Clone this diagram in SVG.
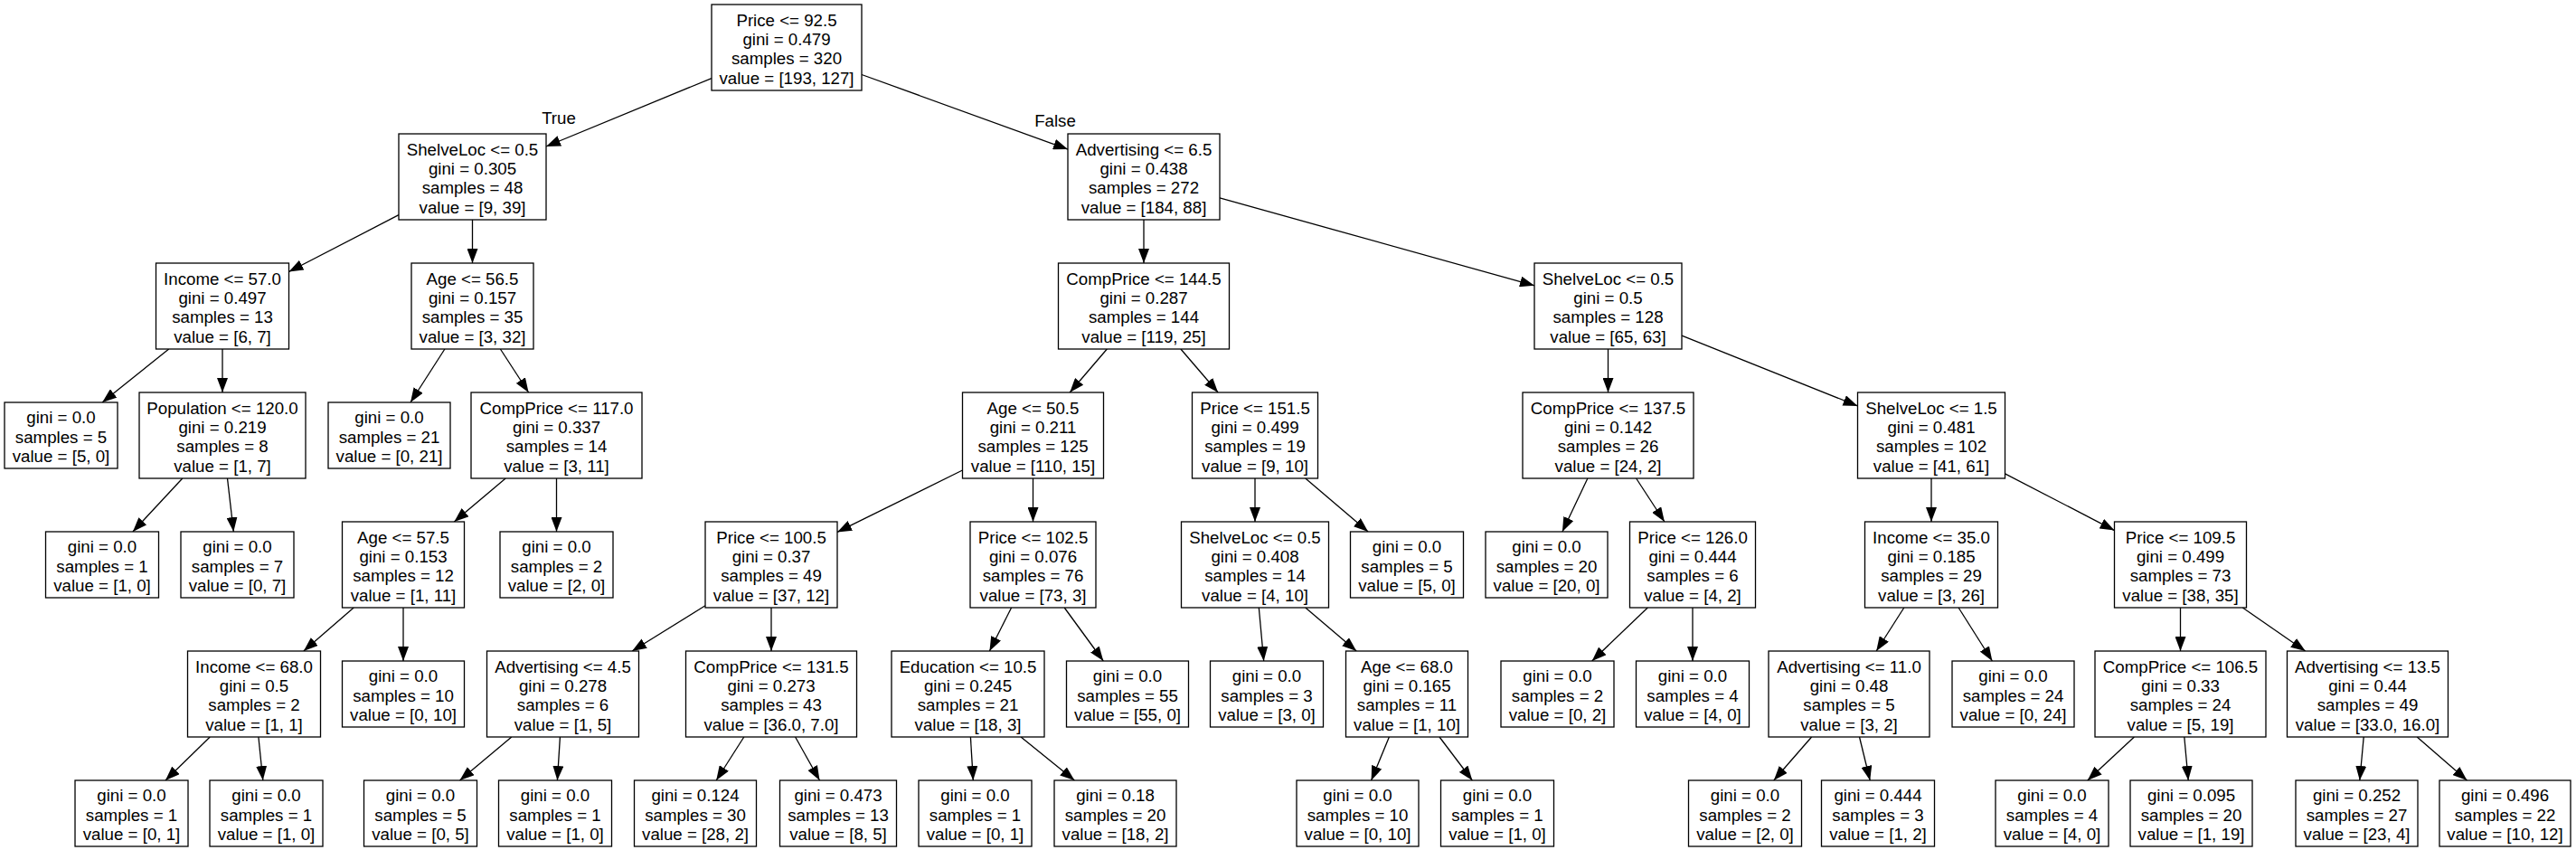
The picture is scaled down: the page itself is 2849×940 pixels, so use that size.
<svg xmlns="http://www.w3.org/2000/svg" width="2849" height="940" viewBox="0 0 2849 940">
<defs>
<style>
.b{fill:#fff;stroke:#000;stroke-width:1.3}
text{font-family:"Liberation Sans",Arial,Helvetica,sans-serif;font-size:18.7px;text-anchor:middle;fill:#000}
.e line{stroke:#000;stroke-width:1.3;marker-end:url(#ah)}
</style>
<marker id="ah" markerUnits="userSpaceOnUse" markerWidth="16" markerHeight="12" viewBox="0 0 16 12" refX="16" refY="6" orient="auto"><path d="M0,0L16,6L0,12z" fill="#000"/></marker>
</defs>
<rect width="2849" height="940" fill="#fff"/>
<g class="e" id="edges">
<line x1="787" y1="86.6" x2="604" y2="162"/>
<line x1="953" y1="82.5" x2="1181" y2="165.1"/>
<line x1="441" y1="237.7" x2="319.5" y2="300.5"/>
<line x1="522.5" y1="243" x2="522.5" y2="291"/>
<line x1="1265" y1="243" x2="1265" y2="291"/>
<line x1="1349" y1="218.9" x2="1697" y2="315.8"/>
<line x1="186.7" y1="386" x2="113.1" y2="445"/>
<line x1="246" y1="386" x2="246" y2="434"/>
<line x1="491.9" y1="386" x2="454" y2="445"/>
<line x1="553.4" y1="386" x2="584.6" y2="434"/>
<line x1="1224.3" y1="386" x2="1183.2" y2="434"/>
<line x1="1305.9" y1="386" x2="1347.1" y2="434"/>
<line x1="1778.5" y1="386" x2="1778.5" y2="434"/>
<line x1="1860" y1="371.1" x2="2054.5" y2="448.9"/>
<line x1="201.8" y1="529" x2="146.9" y2="588"/>
<line x1="251.5" y1="529" x2="258.3" y2="588"/>
<line x1="559.2" y1="529" x2="502.3" y2="577"/>
<line x1="615.5" y1="529" x2="615.5" y2="588"/>
<line x1="1064.5" y1="520" x2="926" y2="588.4"/>
<line x1="1142.5" y1="529" x2="1142.5" y2="577"/>
<line x1="1388" y1="529" x2="1388" y2="577"/>
<line x1="1443.8" y1="529" x2="1513.1" y2="588"/>
<line x1="1755.9" y1="529" x2="1727.9" y2="588"/>
<line x1="1809.6" y1="529" x2="1840.9" y2="577"/>
<line x1="2136" y1="529" x2="2136" y2="577"/>
<line x1="2217.5" y1="523.8" x2="2338.5" y2="586.6"/>
<line x1="391.2" y1="672" x2="335.8" y2="720"/>
<line x1="446" y1="672" x2="446" y2="731"/>
<line x1="780" y1="669.8" x2="699.1" y2="720"/>
<line x1="853" y1="672" x2="853" y2="720"/>
<line x1="1118.6" y1="672" x2="1094.4" y2="720"/>
<line x1="1177.2" y1="672" x2="1220.3" y2="731"/>
<line x1="1392.3" y1="672" x2="1397.7" y2="731"/>
<line x1="1443.8" y1="672" x2="1500.2" y2="720"/>
<line x1="1822.3" y1="672" x2="1760.7" y2="731"/>
<line x1="1872" y1="672" x2="1872" y2="731"/>
<line x1="2105.8" y1="672" x2="2075.2" y2="720"/>
<line x1="2166.1" y1="672" x2="2203.4" y2="731"/>
<line x1="2411.5" y1="672" x2="2411.5" y2="720"/>
<line x1="2480.3" y1="672" x2="2549.7" y2="720"/>
<line x1="232.2" y1="815" x2="183" y2="863"/>
<line x1="285.9" y1="815" x2="290.8" y2="863"/>
<line x1="565.8" y1="815" x2="508.5" y2="863"/>
<line x1="619.4" y1="815" x2="616.4" y2="863"/>
<line x1="822.8" y1="815" x2="792.2" y2="863"/>
<line x1="879.6" y1="815" x2="906.5" y2="863"/>
<line x1="1073.4" y1="815" x2="1076.3" y2="863"/>
<line x1="1129.1" y1="815" x2="1188.4" y2="863"/>
<line x1="1536.4" y1="815" x2="1516.6" y2="863"/>
<line x1="1592" y1="815" x2="1628.3" y2="863"/>
<line x1="2003.6" y1="815" x2="1961.8" y2="863"/>
<line x1="2056.5" y1="815" x2="2068.2" y2="863"/>
<line x1="2360.4" y1="815" x2="2308.8" y2="863"/>
<line x1="2415.8" y1="815" x2="2420.2" y2="863"/>
<line x1="2614.2" y1="815" x2="2609.8" y2="863"/>
<line x1="2673.2" y1="815" x2="2728.5" y2="863"/>
<text x="618" y="137">True</text>
<text x="1167" y="140">False</text>
</g>
<g id="nodes">
<g id="n0" transform="translate(870,52.5)"><rect class="b" x="-83" y="-47.5" width="166" height="95"/><text y="-24">Price &lt;= 92.5</text><text y="-2.6">gini = 0.479</text><text y="18.8">samples = 320</text><text y="40.2">value = [193, 127]</text></g>
<g id="n1" transform="translate(522.5,195.5)"><rect class="b" x="-81.5" y="-47.5" width="163" height="95"/><text y="-24">ShelveLoc &lt;= 0.5</text><text y="-2.6">gini = 0.305</text><text y="18.8">samples = 48</text><text y="40.2">value = [9, 39]</text></g>
<g id="n2" transform="translate(1265,195.5)"><rect class="b" x="-84" y="-47.5" width="168" height="95"/><text y="-24">Advertising &lt;= 6.5</text><text y="-2.6">gini = 0.438</text><text y="18.8">samples = 272</text><text y="40.2">value = [184, 88]</text></g>
<g id="n3" transform="translate(246,338.5)"><rect class="b" x="-73.5" y="-47.5" width="147" height="95"/><text y="-24">Income &lt;= 57.0</text><text y="-2.6">gini = 0.497</text><text y="18.8">samples = 13</text><text y="40.2">value = [6, 7]</text></g>
<g id="n4" transform="translate(522.5,338.5)"><rect class="b" x="-67.5" y="-47.5" width="135" height="95"/><text y="-24">Age &lt;= 56.5</text><text y="-2.6">gini = 0.157</text><text y="18.8">samples = 35</text><text y="40.2">value = [3, 32]</text></g>
<g id="n5" transform="translate(1265,338.5)"><rect class="b" x="-94.5" y="-47.5" width="189" height="95"/><text y="-24">CompPrice &lt;= 144.5</text><text y="-2.6">gini = 0.287</text><text y="18.8">samples = 144</text><text y="40.2">value = [119, 25]</text></g>
<g id="n6" transform="translate(1778.5,338.5)"><rect class="b" x="-81.5" y="-47.5" width="163" height="95"/><text y="-24">ShelveLoc &lt;= 0.5</text><text y="-2.6">gini = 0.5</text><text y="18.8">samples = 128</text><text y="40.2">value = [65, 63]</text></g>
<g id="n7" transform="translate(67.5,481.5)"><rect class="b" x="-62.5" y="-36.5" width="125" height="73"/><text y="-13.3">gini = 0.0</text><text y="8.1">samples = 5</text><text y="29.5">value = [5, 0]</text></g>
<g id="n8" transform="translate(246,481.5)"><rect class="b" x="-92" y="-47.5" width="184" height="95"/><text y="-24">Population &lt;= 120.0</text><text y="-2.6">gini = 0.219</text><text y="18.8">samples = 8</text><text y="40.2">value = [1, 7]</text></g>
<g id="n9" transform="translate(430.5,481.5)"><rect class="b" x="-67.5" y="-36.5" width="135" height="73"/><text y="-13.3">gini = 0.0</text><text y="8.1">samples = 21</text><text y="29.5">value = [0, 21]</text></g>
<g id="n10" transform="translate(615.5,481.5)"><rect class="b" x="-94.5" y="-47.5" width="189" height="95"/><text y="-24">CompPrice &lt;= 117.0</text><text y="-2.6">gini = 0.337</text><text y="18.8">samples = 14</text><text y="40.2">value = [3, 11]</text></g>
<g id="n11" transform="translate(1142.5,481.5)"><rect class="b" x="-78" y="-47.5" width="156" height="95"/><text y="-24">Age &lt;= 50.5</text><text y="-2.6">gini = 0.211</text><text y="18.8">samples = 125</text><text y="40.2">value = [110, 15]</text></g>
<g id="n12" transform="translate(1388,481.5)"><rect class="b" x="-69.5" y="-47.5" width="139" height="95"/><text y="-24">Price &lt;= 151.5</text><text y="-2.6">gini = 0.499</text><text y="18.8">samples = 19</text><text y="40.2">value = [9, 10]</text></g>
<g id="n13" transform="translate(1778.5,481.5)"><rect class="b" x="-94.5" y="-47.5" width="189" height="95"/><text y="-24">CompPrice &lt;= 137.5</text><text y="-2.6">gini = 0.142</text><text y="18.8">samples = 26</text><text y="40.2">value = [24, 2]</text></g>
<g id="n14" transform="translate(2136,481.5)"><rect class="b" x="-81.5" y="-47.5" width="163" height="95"/><text y="-24">ShelveLoc &lt;= 1.5</text><text y="-2.6">gini = 0.481</text><text y="18.8">samples = 102</text><text y="40.2">value = [41, 61]</text></g>
<g id="n15" transform="translate(113,624.5)"><rect class="b" x="-62.5" y="-36.5" width="125" height="73"/><text y="-13.3">gini = 0.0</text><text y="8.1">samples = 1</text><text y="29.5">value = [1, 0]</text></g>
<g id="n16" transform="translate(262.5,624.5)"><rect class="b" x="-62.5" y="-36.5" width="125" height="73"/><text y="-13.3">gini = 0.0</text><text y="8.1">samples = 7</text><text y="29.5">value = [0, 7]</text></g>
<g id="n17" transform="translate(446,624.5)"><rect class="b" x="-67.5" y="-47.5" width="135" height="95"/><text y="-24">Age &lt;= 57.5</text><text y="-2.6">gini = 0.153</text><text y="18.8">samples = 12</text><text y="40.2">value = [1, 11]</text></g>
<g id="n18" transform="translate(615.5,624.5)"><rect class="b" x="-62.5" y="-36.5" width="125" height="73"/><text y="-13.3">gini = 0.0</text><text y="8.1">samples = 2</text><text y="29.5">value = [2, 0]</text></g>
<g id="n19" transform="translate(853,624.5)"><rect class="b" x="-73" y="-47.5" width="146" height="95"/><text y="-24">Price &lt;= 100.5</text><text y="-2.6">gini = 0.37</text><text y="18.8">samples = 49</text><text y="40.2">value = [37, 12]</text></g>
<g id="n20" transform="translate(1142.5,624.5)"><rect class="b" x="-69.5" y="-47.5" width="139" height="95"/><text y="-24">Price &lt;= 102.5</text><text y="-2.6">gini = 0.076</text><text y="18.8">samples = 76</text><text y="40.2">value = [73, 3]</text></g>
<g id="n21" transform="translate(1388,624.5)"><rect class="b" x="-81.5" y="-47.5" width="163" height="95"/><text y="-24">ShelveLoc &lt;= 0.5</text><text y="-2.6">gini = 0.408</text><text y="18.8">samples = 14</text><text y="40.2">value = [4, 10]</text></g>
<g id="n22" transform="translate(1556,624.5)"><rect class="b" x="-62.5" y="-36.5" width="125" height="73"/><text y="-13.3">gini = 0.0</text><text y="8.1">samples = 5</text><text y="29.5">value = [5, 0]</text></g>
<g id="n23" transform="translate(1710.5,624.5)"><rect class="b" x="-67.5" y="-36.5" width="135" height="73"/><text y="-13.3">gini = 0.0</text><text y="8.1">samples = 20</text><text y="29.5">value = [20, 0]</text></g>
<g id="n24" transform="translate(1872,624.5)"><rect class="b" x="-69.5" y="-47.5" width="139" height="95"/><text y="-24">Price &lt;= 126.0</text><text y="-2.6">gini = 0.444</text><text y="18.8">samples = 6</text><text y="40.2">value = [4, 2]</text></g>
<g id="n25" transform="translate(2136,624.5)"><rect class="b" x="-73.5" y="-47.5" width="147" height="95"/><text y="-24">Income &lt;= 35.0</text><text y="-2.6">gini = 0.185</text><text y="18.8">samples = 29</text><text y="40.2">value = [3, 26]</text></g>
<g id="n26" transform="translate(2411.5,624.5)"><rect class="b" x="-73" y="-47.5" width="146" height="95"/><text y="-24">Price &lt;= 109.5</text><text y="-2.6">gini = 0.499</text><text y="18.8">samples = 73</text><text y="40.2">value = [38, 35]</text></g>
<g id="n27" transform="translate(281,767.5)"><rect class="b" x="-73.5" y="-47.5" width="147" height="95"/><text y="-24">Income &lt;= 68.0</text><text y="-2.6">gini = 0.5</text><text y="18.8">samples = 2</text><text y="40.2">value = [1, 1]</text></g>
<g id="n28" transform="translate(446,767.5)"><rect class="b" x="-67.5" y="-36.5" width="135" height="73"/><text y="-13.3">gini = 0.0</text><text y="8.1">samples = 10</text><text y="29.5">value = [0, 10]</text></g>
<g id="n29" transform="translate(622.5,767.5)"><rect class="b" x="-84" y="-47.5" width="168" height="95"/><text y="-24">Advertising &lt;= 4.5</text><text y="-2.6">gini = 0.278</text><text y="18.8">samples = 6</text><text y="40.2">value = [1, 5]</text></g>
<g id="n30" transform="translate(853,767.5)"><rect class="b" x="-94.5" y="-47.5" width="189" height="95"/><text y="-24">CompPrice &lt;= 131.5</text><text y="-2.6">gini = 0.273</text><text y="18.8">samples = 43</text><text y="40.2">value = [36.0, 7.0]</text></g>
<g id="n31" transform="translate(1070.5,767.5)"><rect class="b" x="-84.5" y="-47.5" width="169" height="95"/><text y="-24">Education &lt;= 10.5</text><text y="-2.6">gini = 0.245</text><text y="18.8">samples = 21</text><text y="40.2">value = [18, 3]</text></g>
<g id="n32" transform="translate(1247,767.5)"><rect class="b" x="-67.5" y="-36.5" width="135" height="73"/><text y="-13.3">gini = 0.0</text><text y="8.1">samples = 55</text><text y="29.5">value = [55, 0]</text></g>
<g id="n33" transform="translate(1401,767.5)"><rect class="b" x="-62.5" y="-36.5" width="125" height="73"/><text y="-13.3">gini = 0.0</text><text y="8.1">samples = 3</text><text y="29.5">value = [3, 0]</text></g>
<g id="n34" transform="translate(1556,767.5)"><rect class="b" x="-67.5" y="-47.5" width="135" height="95"/><text y="-24">Age &lt;= 68.0</text><text y="-2.6">gini = 0.165</text><text y="18.8">samples = 11</text><text y="40.2">value = [1, 10]</text></g>
<g id="n35" transform="translate(1722.5,767.5)"><rect class="b" x="-62.5" y="-36.5" width="125" height="73"/><text y="-13.3">gini = 0.0</text><text y="8.1">samples = 2</text><text y="29.5">value = [0, 2]</text></g>
<g id="n36" transform="translate(1872,767.5)"><rect class="b" x="-62.5" y="-36.5" width="125" height="73"/><text y="-13.3">gini = 0.0</text><text y="8.1">samples = 4</text><text y="29.5">value = [4, 0]</text></g>
<g id="n37" transform="translate(2045,767.5)"><rect class="b" x="-89" y="-47.5" width="178" height="95"/><text y="-24">Advertising &lt;= 11.0</text><text y="-2.6">gini = 0.48</text><text y="18.8">samples = 5</text><text y="40.2">value = [3, 2]</text></g>
<g id="n38" transform="translate(2226.5,767.5)"><rect class="b" x="-67.5" y="-36.5" width="135" height="73"/><text y="-13.3">gini = 0.0</text><text y="8.1">samples = 24</text><text y="29.5">value = [0, 24]</text></g>
<g id="n39" transform="translate(2411.5,767.5)"><rect class="b" x="-94.5" y="-47.5" width="189" height="95"/><text y="-24">CompPrice &lt;= 106.5</text><text y="-2.6">gini = 0.33</text><text y="18.8">samples = 24</text><text y="40.2">value = [5, 19]</text></g>
<g id="n40" transform="translate(2618.5,767.5)"><rect class="b" x="-89" y="-47.5" width="178" height="95"/><text y="-24">Advertising &lt;= 13.5</text><text y="-2.6">gini = 0.44</text><text y="18.8">samples = 49</text><text y="40.2">value = [33.0, 16.0]</text></g>
<g id="n41" transform="translate(145.5,899.5)"><rect class="b" x="-62.5" y="-36.5" width="125" height="73"/><text y="-13.3">gini = 0.0</text><text y="8.1">samples = 1</text><text y="29.5">value = [0, 1]</text></g>
<g id="n42" transform="translate(294.5,899.5)"><rect class="b" x="-62.5" y="-36.5" width="125" height="73"/><text y="-13.3">gini = 0.0</text><text y="8.1">samples = 1</text><text y="29.5">value = [1, 0]</text></g>
<g id="n43" transform="translate(465,899.5)"><rect class="b" x="-62.5" y="-36.5" width="125" height="73"/><text y="-13.3">gini = 0.0</text><text y="8.1">samples = 5</text><text y="29.5">value = [0, 5]</text></g>
<g id="n44" transform="translate(614,899.5)"><rect class="b" x="-62.5" y="-36.5" width="125" height="73"/><text y="-13.3">gini = 0.0</text><text y="8.1">samples = 1</text><text y="29.5">value = [1, 0]</text></g>
<g id="n45" transform="translate(769,899.5)"><rect class="b" x="-67.5" y="-36.5" width="135" height="73"/><text y="-13.3">gini = 0.124</text><text y="8.1">samples = 30</text><text y="29.5">value = [28, 2]</text></g>
<g id="n46" transform="translate(927,899.5)"><rect class="b" x="-64.5" y="-36.5" width="129" height="73"/><text y="-13.3">gini = 0.473</text><text y="8.1">samples = 13</text><text y="29.5">value = [8, 5]</text></g>
<g id="n47" transform="translate(1078.5,899.5)"><rect class="b" x="-62.5" y="-36.5" width="125" height="73"/><text y="-13.3">gini = 0.0</text><text y="8.1">samples = 1</text><text y="29.5">value = [0, 1]</text></g>
<g id="n48" transform="translate(1233.5,899.5)"><rect class="b" x="-67.5" y="-36.5" width="135" height="73"/><text y="-13.3">gini = 0.18</text><text y="8.1">samples = 20</text><text y="29.5">value = [18, 2]</text></g>
<g id="n49" transform="translate(1501.5,899.5)"><rect class="b" x="-67.5" y="-36.5" width="135" height="73"/><text y="-13.3">gini = 0.0</text><text y="8.1">samples = 10</text><text y="29.5">value = [0, 10]</text></g>
<g id="n50" transform="translate(1656,899.5)"><rect class="b" x="-62.5" y="-36.5" width="125" height="73"/><text y="-13.3">gini = 0.0</text><text y="8.1">samples = 1</text><text y="29.5">value = [1, 0]</text></g>
<g id="n51" transform="translate(1930,899.5)"><rect class="b" x="-62.5" y="-36.5" width="125" height="73"/><text y="-13.3">gini = 0.0</text><text y="8.1">samples = 2</text><text y="29.5">value = [2, 0]</text></g>
<g id="n52" transform="translate(2077,899.5)"><rect class="b" x="-62.5" y="-36.5" width="125" height="73"/><text y="-13.3">gini = 0.444</text><text y="8.1">samples = 3</text><text y="29.5">value = [1, 2]</text></g>
<g id="n53" transform="translate(2269.5,899.5)"><rect class="b" x="-62.5" y="-36.5" width="125" height="73"/><text y="-13.3">gini = 0.0</text><text y="8.1">samples = 4</text><text y="29.5">value = [4, 0]</text></g>
<g id="n54" transform="translate(2423.5,899.5)"><rect class="b" x="-67.5" y="-36.5" width="135" height="73"/><text y="-13.3">gini = 0.095</text><text y="8.1">samples = 20</text><text y="29.5">value = [1, 19]</text></g>
<g id="n55" transform="translate(2606.5,899.5)"><rect class="b" x="-67.5" y="-36.5" width="135" height="73"/><text y="-13.3">gini = 0.252</text><text y="8.1">samples = 27</text><text y="29.5">value = [23, 4]</text></g>
<g id="n56" transform="translate(2770.5,899.5)"><rect class="b" x="-72.5" y="-36.5" width="145" height="73"/><text y="-13.3">gini = 0.496</text><text y="8.1">samples = 22</text><text y="29.5">value = [10, 12]</text></g>
</g>
</svg>
